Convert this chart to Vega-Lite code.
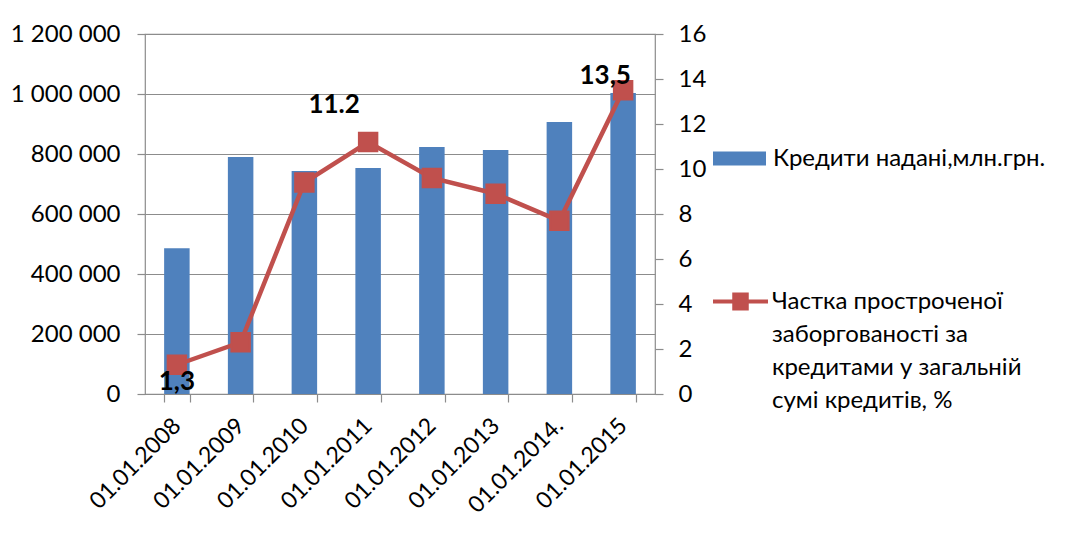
{
  "$schema": "https://vega.github.io/schema/vega-lite/v6.json",
  "autosize": "none",
  "padding": {"left": 145, "top": 34, "right": 418, "bottom": 154},
  "width": 510,
  "height": 360,
  "background": "white",
  "config": {
    "font": "Lato",
    "view": {"stroke": "#8c8c8c", "strokeWidth": 1.2},
    "axis": {"labelFont": "Lato", "labelFontSize": 24, "labelColor": "#000000", "tickColor": "#8c8c8c", "domainColor": "#8c8c8c", "gridColor": "#8c8c8c", "tickWidth": 1.2, "domainWidth": 1.2, "gridWidth": 1.2, "title": null},
    "legend": {"labelFont": "Lato", "labelFontSize": 24, "labelColor": "#000000", "labelLimit": 400, "title": null}
  },
  "data": {"values": [
    {"date": "01.01.2008", "credits": 486000, "share": 1.3, "lab": "1,3"},
    {"date": "01.01.2009", "credits": 790000, "share": 2.3, "lab": ""},
    {"date": "01.01.2010", "credits": 743000, "share": 9.4, "lab": ""},
    {"date": "01.01.2011", "credits": 753000, "share": 11.2, "lab": "11.2"},
    {"date": "01.01.2012", "credits": 823000, "share": 9.6, "lab": ""},
    {"date": "01.01.2013", "credits": 813000, "share": 8.9, "lab": ""},
    {"date": "01.01.2014.", "credits": 907000, "share": 7.7, "lab": ""},
    {"date": "01.01.2015", "credits": 1003000, "share": 13.5, "lab": "13,5"}
  ]},
  "encoding": {
    "x": {"field": "date", "type": "nominal", "sort": null,
      "scale": {"paddingInner": 0.6, "paddingOuter": 0.3},
      "axis": {"labelAngle": -45, "tickBand": "extent", "tickSize": 8, "labelPadding": 12, "labelOffset": -8, "labelFontSize": 23, "domain": false}}
  },
  "layer": [
    {
      "mark": {"type": "bar"},
      "encoding": {
        "y": {"field": "credits", "type": "quantitative",
          "scale": {"domain": [0, 1200000], "nice": false},
          "axis": {"orient": "left", "values": [0, 200000, 400000, 600000, 800000, 1000000, 1200000], "labelExpr": "replace(format(datum.value, ',.0f'), /,/g, ' ')", "grid": true, "tickSize": 8, "labelPadding": 17, "domain": false}},
        "color": {"datum": "Кредити надані,млн.грн.", "type": "nominal",
          "scale": {"range": ["#4F81BD"]},
          "legend": {"orient": "none", "legendX": 568, "legendY": 98, "symbolType": "M-1,-0.264H1V0.264H-1Z", "symbolSize": 2809, "symbolStrokeWidth": 0, "labelOffset": 7}}
      }
    },
    {
      "encoding": {
        "y": {"field": "share", "type": "quantitative",
          "scale": {"domain": [0, 16], "nice": false},
          "axis": {"orient": "right", "values": [0, 2, 4, 6, 8, 10, 12, 14, 16], "grid": false, "tickSize": 8, "labelPadding": 15, "domain": false}}
      },
      "layer": [
        {
          "mark": {"type": "line", "strokeWidth": 4.5, "point": {"shape": "square", "size": 340, "filled": true, "color": "#C0504D"}},
          "encoding": {
            "stroke": {"datum": "Частка простроченої заборгованості", "type": "nominal",
              "scale": {"range": ["#C0504D"]},
              "legend": {"orient": "none", "legendX": 568, "legendY": 240, "symbolType": "M-1,-0.073H1V0.073H-1Z M-0.3,-0.33H0.3V0.33H-0.3Z", "symbolSize": 3025, "labelOffset": 4,
                "labelExpr": "['Частка простроченої', 'заборгованості за', 'кредитами у загальній', 'сумі кредитів, %']",
                "encode": {"symbols": {"update": {"fill": {"value": "#C0504D"}, "strokeWidth": {"value": 0}}},
                           "labels": {"update": {"lineHeight": {"value": 33}}}}}}
          }
        },
        {
          "transform": [{"filter": "datum.lab == '1,3'"}],
          "mark": {"type": "text", "fontWeight": "bold", "fontSize": 26, "dy": 17, "color": "#000000"},
          "encoding": {"text": {"field": "lab"}}
        },
        {
          "transform": [{"filter": "datum.lab == '11.2'"}],
          "mark": {"type": "text", "fontWeight": "bold", "fontSize": 26, "dy": -37, "dx": -34, "color": "#000000"},
          "encoding": {"text": {"field": "lab"}}
        },
        {
          "transform": [{"filter": "datum.lab == '13,5'"}],
          "mark": {"type": "text", "fontWeight": "bold", "fontSize": 26, "dy": -14, "dx": -18, "color": "#000000"},
          "encoding": {"text": {"field": "lab"}}
        }
      ]
    }
  ],
  "resolve": {"scale": {"y": "independent"}}
}
